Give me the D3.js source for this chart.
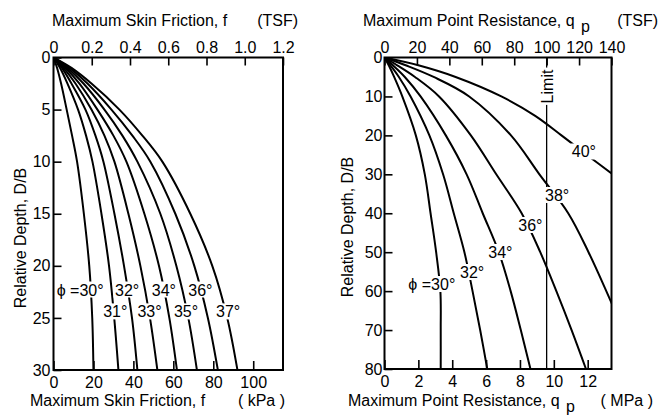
<!DOCTYPE html>
<html><head><meta charset="utf-8">
<script src="https://cdn.jsdelivr.net/npm/d3@7"></script>
<style>
body{margin:0;background:#fff}
svg{display:block}
text{font-family:"Liberation Sans",Arial,Helvetica,sans-serif;font-size:16px;fill:#000}
</style>
</head><body>
<svg id="c" width="672" height="417"></svg>
<script>
// ---------- DATA ----------
// Left chart: maximum skin friction f (kPa) vs relative depth D/B
const depthsL = [0, 1, 2.5, 5, 7.5, 10, 15, 20, 25, 30];
const anglesL = [30, 31, 32, 33, 34, 35, 36, 37];
const skin30 = [0, 1.8, 3.8, 6.6, 9.3, 11.8, 15.2, 17.9, 19.4, 20.0];
const skin31 = [0, 3.3, 7.0, 12.3, 16.3, 19.5, 24.0, 27.8, 30.4, 32.5];
const skin32 = [0, 4.2, 9.0, 16.0, 21.0, 25.0, 30.5, 35.3, 39.3, 42.0];
const skin33 = [0, 5.0, 11.0, 19.0, 25.5, 30.5, 37.5, 43.5, 48.3, 52.0];
const skin34 = [0, 6.0, 13.0, 22.0, 30.0, 36.5, 45.5, 52.8, 58.0, 61.8];
const skin35 = [0, 7.0, 15.0, 25.5, 34.5, 42.0, 53.5, 61.5, 67.5, 71.8];
const skin36 = [0, 8.0, 17.0, 29.0, 39.5, 48.5, 61.0, 70.5, 77.3, 82.3];
const skin37 = [0, 9.0, 19.0, 33.0, 44.5, 54.5, 68.5, 79.5, 87.0, 92.1];

// Right chart: maximum point resistance qp (MPa) vs relative depth D/B
const anglesR = [30, 32, 34, 36, 38, 40];
const depthsR = [0, 2, 5, 10, 20, 30, 40, 50, 60, 70, 80];
const point30 = [0, 0.25, 0.57, 1.05, 1.85, 2.38, 2.72, 3.05, 3.30, 3.32, 3.32];
const point32 = [0, 0.35, 0.85, 1.54, 2.65, 3.46, 4.09, 4.72, 5.20, 5.65, 6.07];
const point34 = [0, 0.50, 1.20, 2.13, 3.62, 4.85, 5.80, 6.75, 7.45, 8.05, 8.62];
const point36 = [0, 0.75, 1.80, 3.22, 5.10, 6.60, 8.10, 9.20, 10.15, 11.05, 11.90];
const depths38 = [0, 2, 5, 10, 20, 30, 40, 50, 60, 66];
const point38 = [0, 1.25, 2.90, 5.00, 7.47, 9.15, 10.85, 12.05, 13.10, 13.70];
const depths40 = [0, 2, 5, 10, 15, 20, 25, 30];
const point40 = [0, 2.00, 4.20, 6.90, 8.90, 10.45, 11.95, 13.47];

// Axis ticks
const tsfTicksL = [0, 0.2, 0.4, 0.6, 0.8, 1.0, 1.2];
const tsfLabelsL = ["0", "0.2", "0.4", "0.6", "0.8", "1.0", "1.2"];
const kpaTicks = [0, 20, 40, 60, 80, 100];
const depthTicksL = [0, 5, 10, 15, 20, 25, 30];
const tsfTicksR = [0, 20, 40, 60, 80, 100, 120, 140];
const mpaTicks = [0, 2, 4, 6, 8, 10, 12];
const depthTicksR = [0, 10, 20, 30, 40, 50, 60, 70, 80];
const limitTSF = 100;

const KPA_PER_TSF = 95.76;
const MPA_PER_TSF = 0.09576;

// ---------- DRAW ----------
const svg = d3.select("#c");
const FONT = '"Liberation Sans",Arial,Helvetica,sans-serif';
const TICK_FS = 17, LAB_FS = 17;

function styleAxis(g) {
  g.attr("font-size", TICK_FS).attr("font-family", FONT);
  g.select(".domain").remove();
  g.selectAll(".tick line").attr("stroke", "#000").attr("stroke-width", 1.6);
  g.selectAll(".tick text").attr("fill", "#000");
}

function knockLabel(g, x, y, txt, anchor) {
  const t = g.append("text").attr("x", x).attr("y", y)
    .attr("font-size", LAB_FS).attr("text-anchor", anchor || "start").text(txt);
  const b = t.node().getBBox();
  g.insert("rect", () => t.node())
    .attr("x", b.x - 1.5).attr("y", y - 14)
    .attr("width", b.width + 3).attr("height", 16)
    .attr("fill", "#fff");
  return t;
}

function series(depths, vals) { return depths.map((d, i) => ({d: d, v: vals[i]})); }

// ===== LEFT CHART =====
const L = {x0: 53.5, x1: 283, y0: 57.5, y1: 370};
const xL = d3.scaleLinear().domain([0, 1.2 * KPA_PER_TSF]).range([L.x0, L.x1]);
const xLt = d3.scaleLinear().domain([0, 1.2]).range([L.x0, L.x1]);
const yL = d3.scaleLinear().domain([0, 30]).range([L.y0, L.y1]);

svg.append("clipPath").attr("id", "clipL").append("rect")
  .attr("x", L.x0).attr("y", L.y0).attr("width", L.x1 - L.x0).attr("height", L.y1 - L.y0);

const gL = svg.append("g");
const lineL = d3.line().x(p => xL(p.v)).y(p => yL(p.d)).curve(d3.curveCatmullRom.alpha(0.5));
const skinSeries = [skin30, skin31, skin32, skin33, skin34, skin35, skin36, skin37];
gL.append("g").attr("clip-path", "url(#clipL)")
  .selectAll("path").data(skinSeries).join("path")
  .attr("d", s => lineL(series(depthsL, s)))
  .attr("fill", "none").attr("stroke", "#000").attr("stroke-width", 2);

// labels (positions in data units)
const labL = gL.append("g");
const labPosL = {
  30: [1.6, 22.85], 32: [30.8, 22.85], 34: [49.2, 22.85], 36: [67.5, 22.85],
  31: [24.9, 24.95], 33: [42.0, 24.95], 35: [60.3, 24.95], 37: [81.4, 24.95]
};
anglesL.forEach(a => {
  const p = labPosL[a];
  knockLabel(labL, xL(p[0]), yL(p[1]), (a === 30 ? "\u03D5 =" : "") + a + "\u00B0");
});

// axes
gL.append("g").attr("transform", `translate(0,${L.y0})`)
  .call(d3.axisTop(xLt).tickValues(tsfTicksL).tickFormat((d, i) => tsfLabelsL[i]).tickSize(-8).tickPadding(5))
  .call(styleAxis);
gL.append("g").attr("transform", `translate(0,${L.y1})`)
  .call(d3.axisBottom(xL).tickValues(kpaTicks).tickFormat(d3.format("d")).tickSize(-9).tickPadding(7))
  .call(styleAxis);
gL.append("g").attr("transform", `translate(${L.x0},0)`)
  .call(d3.axisLeft(yL).tickValues(depthTicksL).tickFormat(d3.format("d")).tickSize(-8).tickPadding(3))
  .call(styleAxis);

gL.append("rect").attr("x", L.x0).attr("y", L.y0).attr("width", L.x1 - L.x0).attr("height", L.y1 - L.y0)
  .attr("fill", "none").attr("stroke", "#000").attr("stroke-width", 2);

// titles
gL.append("text").attr("x", 52).attr("y", 26).text("Maximum Skin Friction, f");
gL.append("text").attr("x", 298).attr("y", 26).attr("text-anchor", "end").text("(TSF)");
gL.append("text").attr("x", 30).attr("y", 406).text("Maximum Skin Friction, f");
gL.append("text").attr("x", 285).attr("y", 406).attr("text-anchor", "end").text("( kPa )");
gL.append("text").attr("transform", "translate(26,238) rotate(-90)").attr("text-anchor", "middle").text("Relative Depth, D/B");

// ===== RIGHT CHART =====
const R = {x0: 384.5, x1: 611.5, y0: 57.5, y1: 369};
const xR = d3.scaleLinear().domain([0, 140 * MPA_PER_TSF]).range([R.x0, R.x1]);
const xRt = d3.scaleLinear().domain([0, 140]).range([R.x0, R.x1]);
const yR = d3.scaleLinear().domain([0, 80]).range([R.y0, R.y1]);

svg.append("clipPath").attr("id", "clipR").append("rect")
  .attr("x", R.x0).attr("y", R.y0).attr("width", R.x1 - R.x0).attr("height", R.y1 - R.y0);

const gR = svg.append("g");
const lineR = d3.line().x(p => xR(p.v)).y(p => yR(p.d)).curve(d3.curveCatmullRom.alpha(0.5));
const pointSeries = [
  series(depthsR, point30), series(depthsR, point32), series(depthsR, point34),
  series(depthsR, point36), series(depths38, point38), series(depths40, point40)
];
const cR = gR.append("g").attr("clip-path", "url(#clipR)");
cR.selectAll("path.curve").data(pointSeries).join("path").attr("class", "curve")
  .attr("d", lineR)
  .attr("fill", "none").attr("stroke", "#000").attr("stroke-width", 2);
// limit line
cR.append("line").attr("x1", xRt(limitTSF)).attr("x2", xRt(limitTSF))
  .attr("y1", R.y0).attr("y2", R.y1).attr("stroke", "#000").attr("stroke-width", 1.3);

const labR = gR.append("g");
const labPosR = {
  40: [11.06, 25.68], 38: [9.48, 36.85], 36: [7.90, 44.56],
  34: [6.13, 51.49], 32: [4.46, 56.63], 30: [1.41, 59.71]
};
anglesR.forEach(a => {
  const p = labPosR[a];
  knockLabel(labR, xR(p[0]), yR(p[1]), (a === 30 ? "\u03D5 =" : "") + a + "\u00B0");
});
// Limit label (rotated)
const limG = labR.append("g").attr("transform", `translate(${xRt(limitTSF) + 6},${yR(7.45)}) rotate(-90)`);
knockLabel(limG, 0, 0, "Limit", "middle");

gR.append("g").attr("transform", `translate(0,${R.y0})`)
  .call(d3.axisTop(xRt).tickValues(tsfTicksR).tickFormat(d3.format("d")).tickSize(-8).tickPadding(5))
  .call(styleAxis);
gR.append("g").attr("transform", `translate(0,${R.y1})`)
  .call(d3.axisBottom(xR).tickValues(mpaTicks).tickFormat(d3.format("d")).tickSize(-9).tickPadding(7))
  .call(styleAxis);
gR.append("g").attr("transform", `translate(${R.x0},0)`)
  .call(d3.axisLeft(yR).tickValues(depthTicksR).tickFormat(d3.format("d")).tickSize(-8).tickPadding(2))
  .call(styleAxis);

gR.append("rect").attr("x", R.x0).attr("y", R.y0).attr("width", R.x1 - R.x0).attr("height", R.y1 - R.y0)
  .attr("fill", "none").attr("stroke", "#000").attr("stroke-width", 2);

// titles
const tR = gR.append("text").attr("x", 363).attr("y", 26);
tR.append("tspan").text("Maximum Point Resistance, q");
tR.append("tspan").attr("x", 581).attr("dy", 6).text("p");
gR.append("text").attr("x", 658).attr("y", 26).attr("text-anchor", "end").text("(TSF)");
const bR = gR.append("text").attr("x", 348).attr("y", 406);
bR.append("tspan").text("Maximum Point Resistance, q");
bR.append("tspan").attr("x", 566).attr("dy", 6).text("p");
gR.append("text").attr("x", 653).attr("y", 406).attr("text-anchor", "end").text("( MPa )");
gR.append("text").attr("transform", "translate(353,227) rotate(-90)").attr("text-anchor", "middle").text("Relative Depth, D/B");
</script>
</body></html>
